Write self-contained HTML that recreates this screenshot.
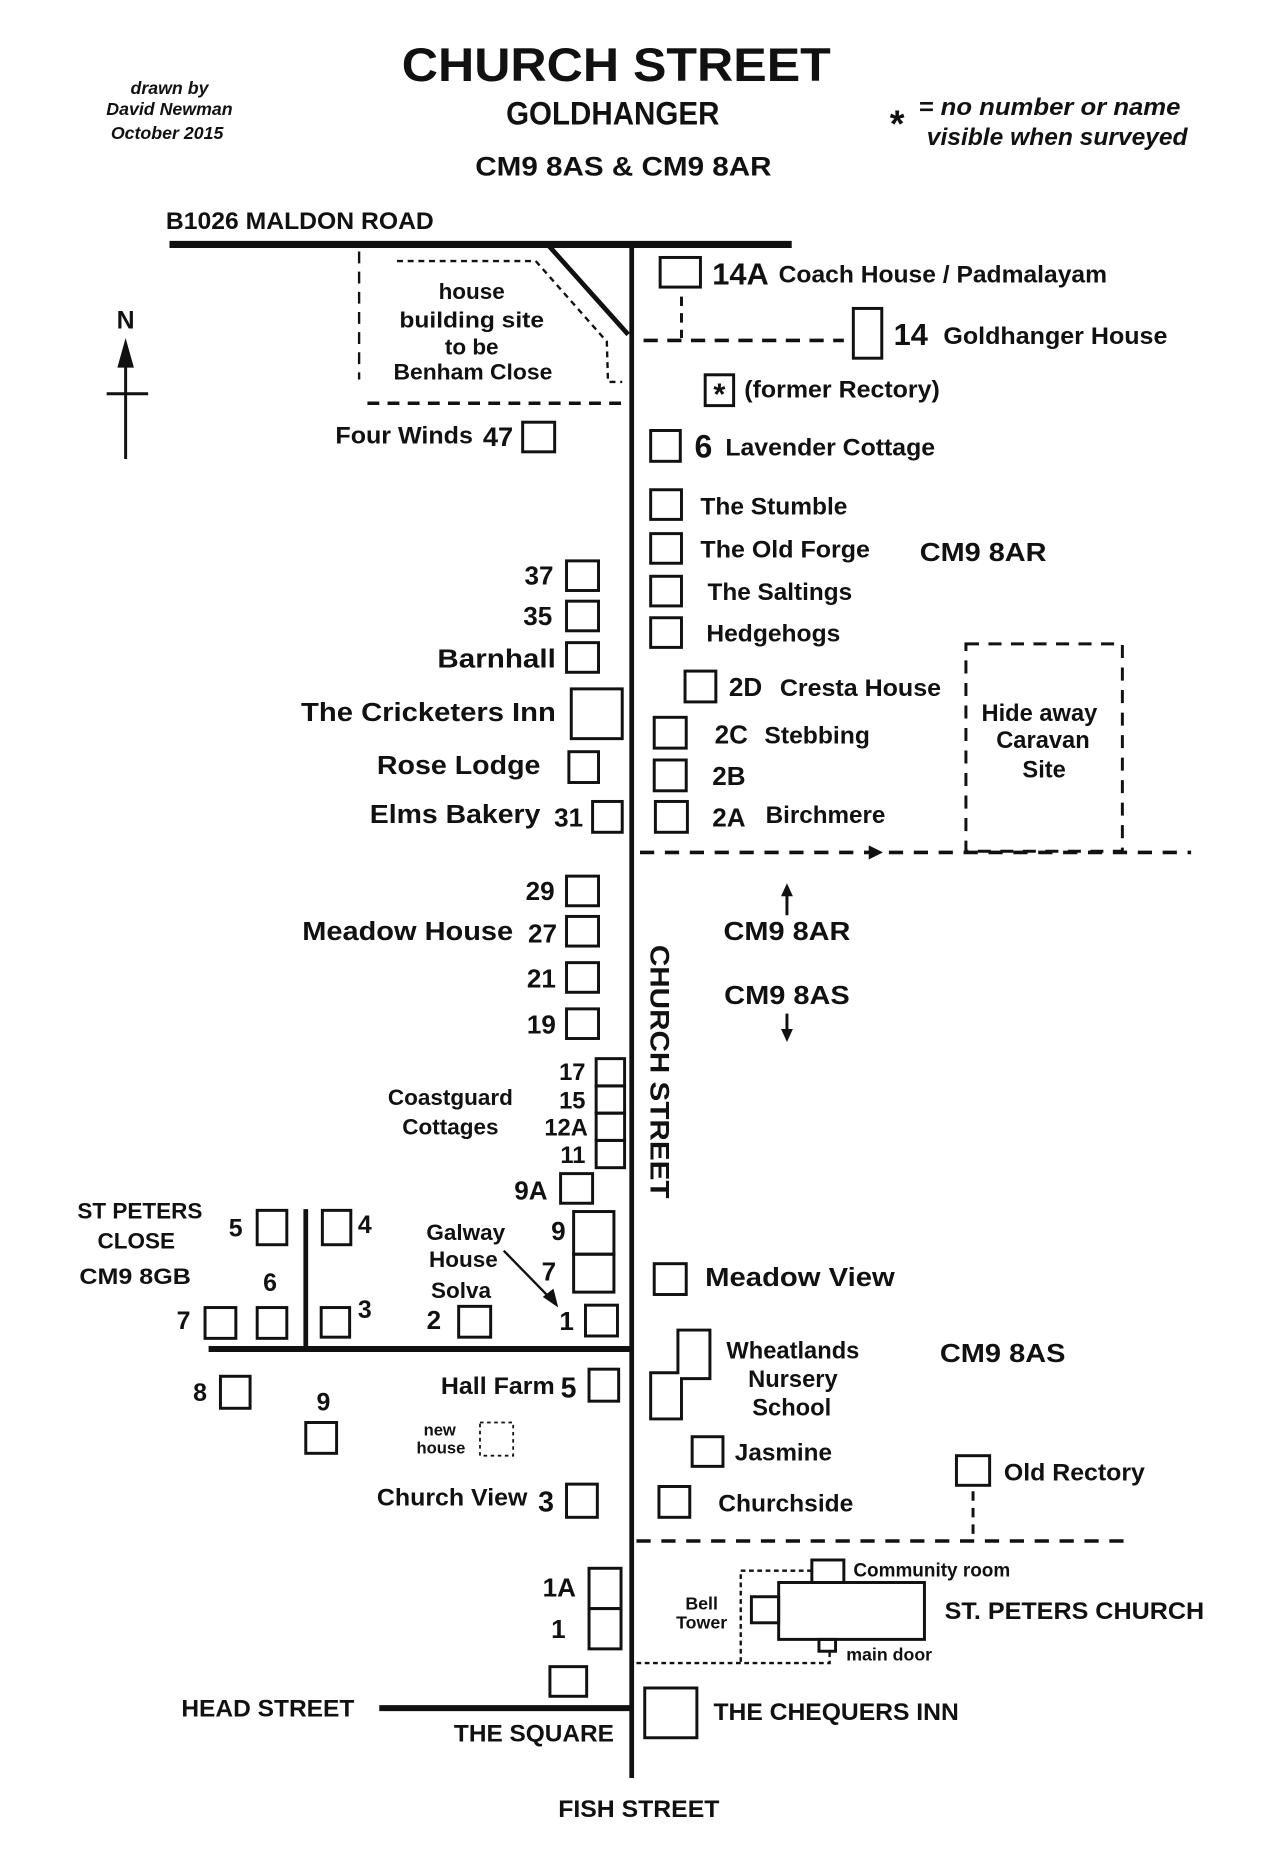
<!DOCTYPE html>
<html><head><meta charset="utf-8"><style>
html,body{margin:0;padding:0;background:#fff;}
svg{display:block;}
text{font-family:"Liberation Sans Narrow","Liberation Sans",Arial,sans-serif;font-weight:bold;fill:#111;}
.r{text-anchor:end;}
.m{text-anchor:middle;}
</style></head><body>
<svg width="1280" height="1853" viewBox="0 0 1080 1563" xmlns="http://www.w3.org/2000/svg">
<rect width="1080" height="1563" fill="#fff"/>
<g stroke="#111" fill="none">
<!-- roads -->
<line x1="143" y1="206" x2="668" y2="206" stroke-width="6"/>
<line x1="533" y1="206" x2="533" y2="1500" stroke-width="4"/>
<line x1="462" y1="206" x2="530" y2="282" stroke-width="4"/>
<line x1="176" y1="1138" x2="533" y2="1138" stroke-width="5"/>
<line x1="258" y1="1020" x2="258" y2="1138" stroke-width="4"/>
<line x1="320" y1="1441" x2="533" y2="1441" stroke-width="5"/>
<!-- building site dashed -->
<line x1="303" y1="212" x2="303" y2="320" stroke-width="2" stroke-dasharray="10,7"/>
<polyline points="335,220 452,220 512,288 513,322 525,322" stroke-width="2" stroke-dasharray="5,4"/>
<line x1="310" y1="340" x2="525" y2="340" stroke-width="3" stroke-dasharray="10,7"/>
<!-- north arrow -->
<line x1="106" y1="300" x2="106" y2="387" stroke-width="2.5"/>
<line x1="90" y1="332" x2="125" y2="332" stroke-width="2.5"/>
<!-- dashed lines -->
<line x1="575" y1="250" x2="575" y2="285" stroke-width="2.5" stroke-dasharray="8,6"/>
<line x1="543" y1="287" x2="712" y2="287" stroke-width="3" stroke-dasharray="12,8"/>
<rect x="815" y="543" width="132" height="175" stroke-width="2.5" stroke-dasharray="11,8"/>
<line x1="540" y1="719" x2="1005" y2="719" stroke-width="3" stroke-dasharray="12,9"/>
<line x1="664" y1="752" x2="664" y2="772" stroke-width="2.5"/>
<line x1="664" y1="855" x2="664" y2="872" stroke-width="2.5"/>
<line x1="821" y1="1258" x2="821" y2="1300" stroke-width="2.5" stroke-dasharray="8,6"/>
<line x1="537" y1="1300" x2="952" y2="1300" stroke-width="3" stroke-dasharray="12,9"/>
<polyline points="685,1325 625,1325 625,1403" stroke-width="2" stroke-dasharray="4,3"/>
<polyline points="537,1403 700,1403 700,1393" stroke-width="2" stroke-dasharray="4,3"/>
<line x1="425" y1="1055" x2="466" y2="1097" stroke-width="2"/>
<!-- boxes -->
<g stroke-width="2.5">
<rect x="557" y="217" width="34" height="25"/>
<rect x="720" y="260" width="24" height="42"/>
<rect x="595" y="316" width="24" height="26"/>
<rect x="549" y="363" width="25" height="26"/>
<rect x="549" y="413" width="26" height="25"/>
<rect x="549" y="450" width="26" height="25"/>
<rect x="549" y="486" width="26" height="25"/>
<rect x="549" y="521" width="26" height="25"/>
<rect x="578" y="566" width="26" height="26"/>
<rect x="552" y="605" width="27" height="26"/>
<rect x="552" y="641" width="27" height="26"/>
<rect x="553" y="676" width="27" height="26"/>
<rect x="441" y="356" width="27" height="25"/>
<rect x="478" y="473" width="27" height="25"/>
<rect x="478" y="507" width="27" height="25"/>
<rect x="478" y="542" width="27" height="25"/>
<rect x="482" y="581" width="43" height="42"/>
<rect x="480" y="634" width="25" height="26"/>
<rect x="500" y="676" width="25" height="26"/>
<rect x="478" y="739" width="27" height="25"/>
<rect x="478" y="773" width="27" height="25"/>
<rect x="478" y="812" width="27" height="25"/>
<rect x="478" y="851" width="27" height="25"/>
<rect x="503" y="893" width="24" height="23"/>
<rect x="503" y="916" width="24" height="23"/>
<rect x="503" y="939" width="24" height="23"/>
<rect x="503" y="962" width="24" height="23"/>
<rect x="473" y="990" width="27" height="25"/>
<rect x="484" y="1022" width="34" height="36"/>
<rect x="484" y="1058" width="34" height="32"/>
<rect x="494" y="1101" width="27" height="26"/>
<rect x="387" y="1102" width="27" height="26"/>
<rect x="217" y="1021" width="25" height="29"/>
<rect x="272" y="1021" width="24" height="29"/>
<rect x="173" y="1103" width="26" height="26"/>
<rect x="217" y="1103" width="25" height="26"/>
<rect x="271" y="1103" width="24" height="25"/>
<rect x="497" y="1155" width="25" height="27"/>
<rect x="186" y="1161" width="25" height="27"/>
<rect x="258" y="1200" width="26" height="26"/>
<rect x="478" y="1252" width="26" height="28"/>
<rect x="497" y="1323" width="27" height="34"/>
<rect x="497" y="1357" width="27" height="34"/>
<rect x="464" y="1406" width="31" height="25"/>
<rect x="544" y="1424" width="44" height="42"/>
<rect x="552" y="1066" width="27" height="26"/>
<polygon points="572,1122 599,1122 599,1163 575,1163 575,1197 549,1197 549,1158 572,1158"/>
<rect x="584" y="1212" width="26" height="25"/>
<rect x="556" y="1254" width="26" height="26"/>
<rect x="807" y="1228" width="28" height="25"/>
<rect x="657" y="1335" width="123" height="48"/>
<rect x="685" y="1316" width="27" height="19"/>
<rect x="634" y="1347" width="23" height="22"/>
<rect x="691" y="1383" width="14" height="10"/>
</g>
<rect x="405" y="1200" width="28" height="28" stroke-width="1.5" stroke-dasharray="3,3"/>
</g>
<!-- arrowheads -->
<polygon points="106,285 99,310 113,310" fill="#111"/>
<polygon points="745,719 733,713 733,725" fill="#111"/>
<polygon points="664,745 659,756 669,756" fill="#111"/>
<polygon points="664,879 659,868 669,868" fill="#111"/>
<polygon points="471,1103 458,1094 467,1087" fill="#111"/>

<!-- header -->
<text x="520" y="68" class="m" font-size="40" textLength="362" lengthAdjust="spacingAndGlyphs">CHURCH STREET</text>
<text x="517" y="105" class="m" font-size="27" textLength="180" lengthAdjust="spacingAndGlyphs">GOLDHANGER</text>
<text x="526" y="148" class="m" font-size="23" textLength="250" lengthAdjust="spacingAndGlyphs">CM9 8AS  &amp; CM9 8AR</text>
<text x="143" y="79" class="m" font-size="15" font-style="italic">drawn by</text>
<text x="143" y="97" class="m" font-size="15" font-style="italic">David Newman</text>
<text x="141" y="117" class="m" font-size="15" font-style="italic">October 2015</text>
<text x="757" y="115" class="m" font-size="32">*</text>
<text x="775" y="97" font-size="20" font-style="italic" textLength="221" lengthAdjust="spacingAndGlyphs">= no number or name</text>
<text x="782" y="122" font-size="20" font-style="italic" textLength="220" lengthAdjust="spacingAndGlyphs">visible when surveyed</text>
<text x="140" y="193" font-size="20" textLength="226" lengthAdjust="spacingAndGlyphs">B1026 MALDON ROAD</text>
<text x="398" y="252" class="m" font-size="19">house</text>
<text x="398" y="276" class="m" font-size="19" textLength="122" lengthAdjust="spacingAndGlyphs">building site</text>
<text x="398" y="299" class="m" font-size="19">to be</text>
<text x="399" y="320" class="m" font-size="19" textLength="134" lengthAdjust="spacingAndGlyphs">Benham Close</text>
<text x="106" y="277" class="m" font-size="21">N</text>

<!-- right top -->
<text x="601" y="240" font-size="26">14A</text>
<text x="657" y="238" font-size="20" textLength="277" lengthAdjust="spacingAndGlyphs">Coach House / Padmalayam</text>
<text x="754" y="291" font-size="26">14</text>
<text x="796" y="290" font-size="20" textLength="189" lengthAdjust="spacingAndGlyphs">Goldhanger House</text>
<text x="607" y="341" class="m" font-size="26">*</text>
<text x="628" y="335" font-size="20" textLength="165" lengthAdjust="spacingAndGlyphs">(former Rectory)</text>
<text x="586" y="386" font-size="27">6</text>
<text x="612" y="384" font-size="20" textLength="177" lengthAdjust="spacingAndGlyphs">Lavender Cottage</text>
<text x="591" y="434" font-size="20" textLength="124" lengthAdjust="spacingAndGlyphs">The Stumble</text>
<text x="591" y="470" font-size="20" textLength="143" lengthAdjust="spacingAndGlyphs">The Old Forge</text>
<text x="597" y="506" font-size="20" textLength="122" lengthAdjust="spacingAndGlyphs">The Saltings</text>
<text x="596" y="541" font-size="20" textLength="113" lengthAdjust="spacingAndGlyphs">Hedgehogs</text>
<text x="776" y="473" font-size="22" textLength="107" lengthAdjust="spacingAndGlyphs">CM9 8AR</text>
<text x="615" y="587" font-size="22">2D</text>
<text x="658" y="587" font-size="20" textLength="136" lengthAdjust="spacingAndGlyphs">Cresta House</text>
<text x="603" y="627" font-size="22">2C</text>
<text x="645" y="627" font-size="20" textLength="89" lengthAdjust="spacingAndGlyphs">Stebbing</text>
<text x="601" y="662" font-size="22">2B</text>
<text x="601" y="697" font-size="22">2A</text>
<text x="646" y="694" font-size="20" textLength="101" lengthAdjust="spacingAndGlyphs">Birchmere</text>
<text x="877" y="608" class="m" font-size="20">Hide away</text>
<text x="880" y="631" class="m" font-size="20">Caravan</text>
<text x="881" y="656" class="m" font-size="20">Site</text>
<text x="664" y="793" class="m" font-size="22" textLength="107" lengthAdjust="spacingAndGlyphs">CM9 8AR</text>
<text x="664" y="847" class="m" font-size="22" textLength="106" lengthAdjust="spacingAndGlyphs">CM9 8AS</text>
<text transform="translate(549,797) rotate(90)" font-size="23" textLength="214" lengthAdjust="spacingAndGlyphs">CHURCH STREET</text>

<!-- left -->
<text x="399" y="374" class="r" font-size="20" textLength="116" lengthAdjust="spacingAndGlyphs">Four Winds</text>
<text x="433" y="376" class="r" font-size="23">47</text>
<text x="467" y="493" class="r" font-size="22">37</text>
<text x="466" y="527" class="r" font-size="22">35</text>
<text x="469" y="563" class="r" font-size="22" textLength="100" lengthAdjust="spacingAndGlyphs">Barnhall</text>
<text x="469" y="608" class="r" font-size="22" textLength="215" lengthAdjust="spacingAndGlyphs">The Cricketers Inn</text>
<text x="456" y="653" class="r" font-size="22" textLength="138" lengthAdjust="spacingAndGlyphs">Rose Lodge</text>
<text x="456" y="694" class="r" font-size="22" textLength="144" lengthAdjust="spacingAndGlyphs">Elms Bakery</text>
<text x="492" y="697" class="r" font-size="22">31</text>
<text x="468" y="759" class="r" font-size="22">29</text>
<text x="433" y="793" class="r" font-size="22" textLength="178" lengthAdjust="spacingAndGlyphs">Meadow House</text>
<text x="470" y="795" class="r" font-size="22">27</text>
<text x="469" y="833" class="r" font-size="22">21</text>
<text x="469" y="872" class="r" font-size="22">19</text>
<text x="494" y="911" class="r" font-size="20">17</text>
<text x="494" y="935" class="r" font-size="20">15</text>
<text x="496" y="958" class="r" font-size="20">12A</text>
<text x="494" y="981" class="r" font-size="20">11</text>
<text x="380" y="932" class="m" font-size="19">Coastguard</text>
<text x="380" y="957" class="m" font-size="19">Cottages</text>
<text x="462" y="1012" class="r" font-size="22">9A</text>
<text x="465" y="1046" font-size="22">9</text>
<text x="457" y="1080" font-size="22">7</text>
<text x="393" y="1046" class="m" font-size="19">Galway</text>
<text x="391" y="1069" class="m" font-size="19">House</text>
<text x="389" y="1095" class="m" font-size="19">Solva</text>
<text x="472" y="1122" font-size="22">1</text>
<text x="360" y="1121" font-size="22">2</text>
<text x="118" y="1028" class="m" font-size="19">ST PETERS</text>
<text x="115" y="1053" class="m" font-size="19">CLOSE</text>
<text x="114" y="1083" class="m" font-size="19" textLength="94" lengthAdjust="spacingAndGlyphs">CM9 8GB</text>
<text x="193" y="1043" font-size="21">5</text>
<text x="302" y="1040" font-size="21">4</text>
<text x="222" y="1089" font-size="21">6</text>
<text x="149" y="1121" font-size="21">7</text>
<text x="302" y="1112" font-size="21">3</text>
<text x="468" y="1176" class="r" font-size="20" textLength="96" lengthAdjust="spacingAndGlyphs">Hall Farm</text>
<text x="473" y="1179" font-size="24">5</text>
<text x="163" y="1182" font-size="21">8</text>
<text x="267" y="1190" font-size="21">9</text>
<text x="371" y="1211" class="m" font-size="14">new</text>
<text x="372" y="1226" class="m" font-size="14">house</text>
<text x="445" y="1270" class="r" font-size="20" textLength="127" lengthAdjust="spacingAndGlyphs">Church View</text>
<text x="454" y="1275" font-size="24">3</text>
<text x="486" y="1347" class="r" font-size="22">1A</text>
<text x="465" y="1382" font-size="22">1</text>
<text x="153" y="1448" font-size="20" textLength="146" lengthAdjust="spacingAndGlyphs">HEAD STREET</text>
<text x="383" y="1469" font-size="20" textLength="135" lengthAdjust="spacingAndGlyphs">THE SQUARE</text>
<text x="539" y="1533" class="m" font-size="20" textLength="136" lengthAdjust="spacingAndGlyphs">FISH STREET</text>

<!-- right lower -->
<text x="595" y="1085" font-size="22" textLength="160" lengthAdjust="spacingAndGlyphs">Meadow View</text>
<text x="669" y="1146" class="m" font-size="20">Wheatlands</text>
<text x="669" y="1170" class="m" font-size="20">Nursery</text>
<text x="668" y="1194" class="m" font-size="20">School</text>
<text x="793" y="1149" font-size="22" textLength="106" lengthAdjust="spacingAndGlyphs">CM9 8AS</text>
<text x="620" y="1232" font-size="20" textLength="82" lengthAdjust="spacingAndGlyphs">Jasmine</text>
<text x="606" y="1275" font-size="20" textLength="114" lengthAdjust="spacingAndGlyphs">Churchside</text>
<text x="847" y="1249" font-size="20" textLength="119" lengthAdjust="spacingAndGlyphs">Old Rectory</text>
<text x="720" y="1330" font-size="16">Community room</text>
<text x="592" y="1358" class="m" font-size="15">Bell</text>
<text x="592" y="1374" class="m" font-size="15">Tower</text>
<text x="714" y="1401" font-size="15" font-weight="normal">main door</text>
<text x="797" y="1366" font-size="20" textLength="219" lengthAdjust="spacingAndGlyphs">ST. PETERS CHURCH</text>
<text x="602" y="1451" font-size="20" textLength="207" lengthAdjust="spacingAndGlyphs">THE CHEQUERS INN</text>
</svg>
</body></html>
